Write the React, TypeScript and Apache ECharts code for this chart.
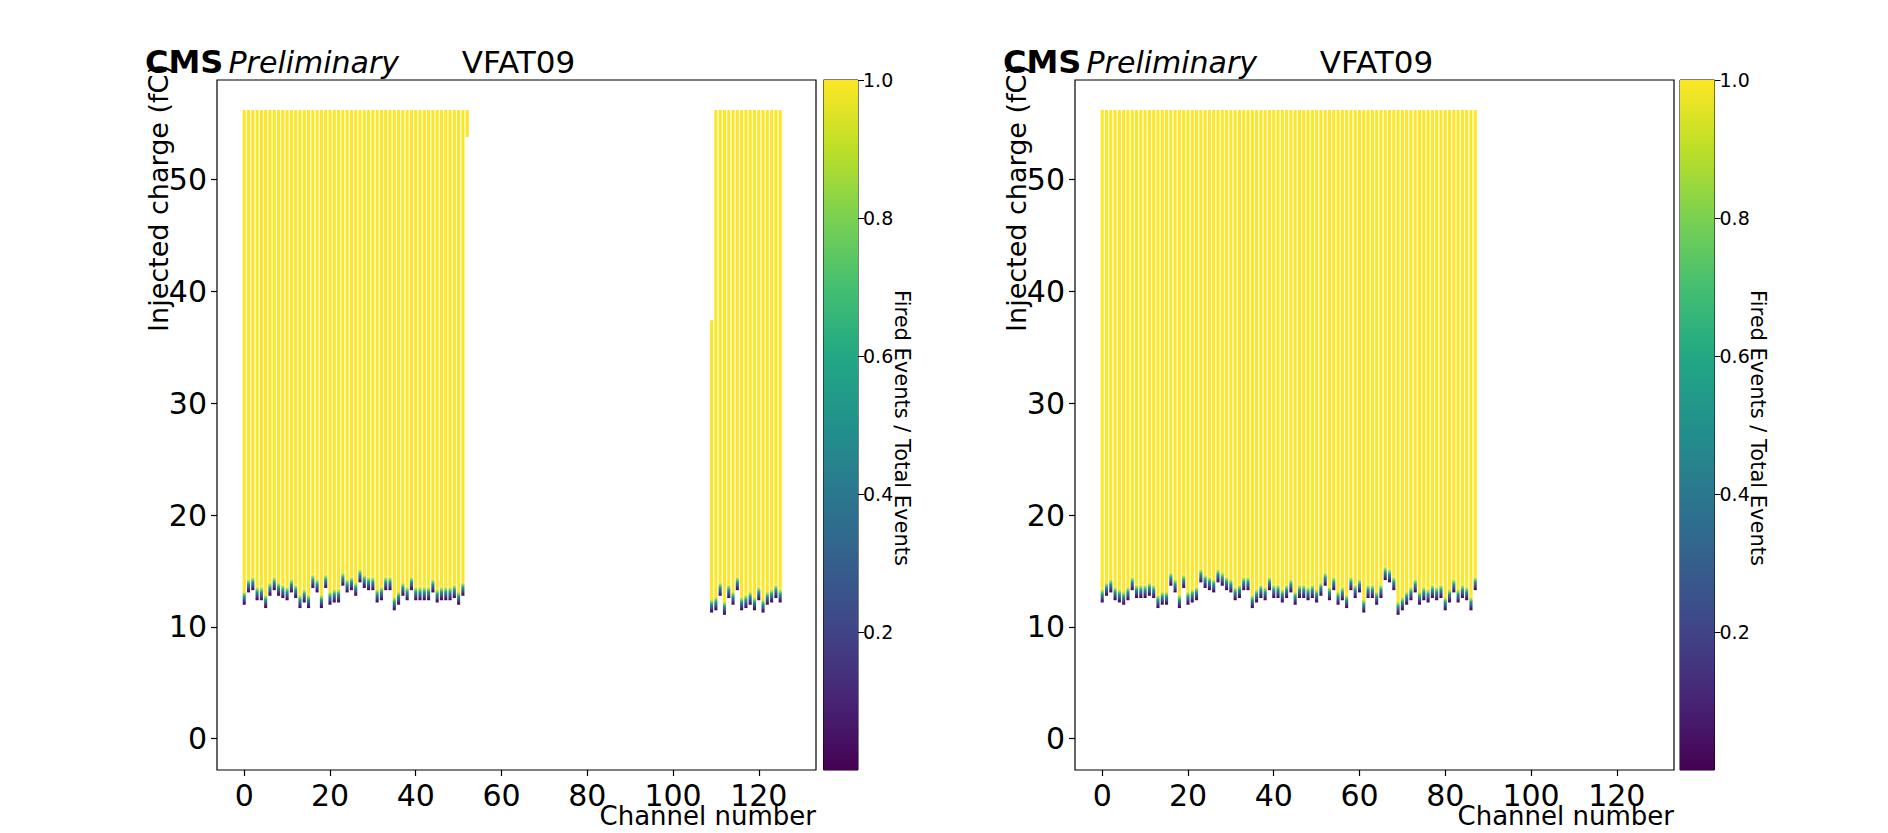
import React, { useEffect, useRef } from "react";
import * as echarts from "echarts";

// ---------- data ----------
const leftChannels = [
  0, 1, 2, 3, 4, 5, 6, 7, 8, 9, 10, 11, 12, 13, 14, 15, 16, 17, 18, 19, 20, 21, 22, 23, 24, 25,
  26, 27, 28, 29, 30, 31, 32, 33, 34, 35, 36, 37, 38, 39, 40, 41, 42, 43, 44, 45, 46, 47, 48, 49,
  50, 51, 52,
  109, 110, 111, 112, 113, 114, 115, 116, 117, 118, 119, 120, 121, 122, 123, 124, 125,
];
// lowest injected charge with any fired events (fC)
const leftLow = [
  12.1, 13.2, 13.4, 12.5, 12.5, 11.8, 12.9, 13.4, 12.9, 12.7, 12.5, 13.2, 12.7, 11.8, 12.3, 11.8,
  13.6, 13.2, 11.8, 13.6, 12.1, 12.3, 12.3, 13.8, 13.2, 13.4, 12.9, 14.1, 13.6, 13.4, 13.4, 12.3,
  12.5, 13.4, 13.4, 11.6, 12.1, 12.9, 12.5, 13.4, 12.5, 12.5, 12.5, 12.5, 13.2, 12.3, 12.5, 12.5,
  12.5, 12.7, 12.1, 12.9, 53.8,
  11.4, 11.6, 12.9, 11.2, 12.7, 12.1, 13.4, 11.6, 11.8, 12.1, 11.6, 12.5, 11.4, 12.1, 12.3, 12.7, 12.3,
];
// charge at which fired/total reaches 1 (fC)
const leftFull = [
  13.2, 14.3, 14.5, 13.6, 13.6, 12.9, 14.0, 14.5, 14.0, 13.8, 13.6, 14.3, 13.8, 12.9, 13.4, 12.9,
  14.7, 14.3, 12.9, 14.7, 13.2, 13.4, 13.4, 14.9, 14.3, 14.5, 14.0, 15.2, 14.7, 14.5, 14.5, 13.4,
  13.6, 14.5, 14.5, 12.7, 13.2, 14.0, 13.6, 14.5, 13.6, 13.6, 13.6, 13.6, 14.3, 13.4, 13.6, 13.6,
  13.6, 13.8, 13.2, 14.0, 53.8,
  12.5, 12.7, 14.0, 12.3, 13.8, 13.2, 14.5, 12.7, 12.9, 13.2, 12.7, 13.6, 12.5, 13.2, 13.4, 13.8, 13.4,
];
// highest scanned charge (fC)
const leftTop = [
  56.1, 56.1, 56.1, 56.1, 56.1, 56.1, 56.1, 56.1, 56.1, 56.1, 56.1, 56.1, 56.1, 56.1, 56.1, 56.1,
  56.1, 56.1, 56.1, 56.1, 56.1, 56.1, 56.1, 56.1, 56.1, 56.1, 56.1, 56.1, 56.1, 56.1, 56.1, 56.1,
  56.1, 56.1, 56.1, 56.1, 56.1, 56.1, 56.1, 56.1, 56.1, 56.1, 56.1, 56.1, 56.1, 56.1, 56.1, 56.1,
  56.1, 56.1, 56.1, 56.1, 56.1,
  37.3, 56.1, 56.1, 56.1, 56.1, 56.1, 56.1, 56.1, 56.1, 56.1, 56.1, 56.1, 56.1, 56.1, 56.1, 56.1, 56.1,
];

const rightChannels = [
  0, 1, 2, 3, 4, 5, 6, 7, 8, 9, 10, 11, 12, 13, 14, 15, 16, 17, 18, 19, 20, 21, 22, 23, 24, 25,
  26, 27, 28, 29, 30, 31, 32, 33, 34, 35, 36, 37, 38, 39, 40, 41, 42, 43, 44, 45, 46, 47, 48, 49,
  50, 51, 52, 53, 54, 55, 56, 57, 58, 59, 60, 61, 62, 63, 64, 65, 66, 67, 68, 69, 70, 71, 72, 73,
  74, 75, 76, 77, 78, 79, 80, 81, 82, 83, 84, 85, 86, 87,
];
const rightLow = [
  12.3, 12.9, 13.2, 12.5, 12.3, 12.1, 12.5, 13.4, 12.7, 12.7, 12.7, 12.9, 12.7, 11.8, 12.1, 12.1,
  13.8, 13.2, 11.8, 13.6, 12.1, 12.3, 12.5, 14.1, 13.6, 13.4, 13.2, 14.1, 13.8, 13.4, 13.2, 12.5,
  12.7, 13.4, 13.4, 11.8, 12.3, 12.7, 12.5, 13.4, 12.7, 12.7, 12.3, 12.7, 13.2, 12.1, 12.7, 12.7,
  12.5, 12.7, 12.3, 12.9, 13.8, 12.5, 13.4, 12.1, 12.5, 11.8, 13.4, 12.7, 13.2, 11.4, 12.7, 12.7,
  12.1, 12.7, 14.3, 14.1, 13.4, 11.2, 11.6, 12.1, 12.5, 13.2, 12.1, 12.5, 12.3, 12.7, 12.5, 12.7,
  11.6, 12.3, 13.2, 12.3, 12.7, 12.5, 11.6, 13.4,
];
const rightFull = [
  13.4, 14.0, 14.3, 13.6, 13.4, 13.2, 13.6, 14.5, 13.8, 13.8, 13.8, 14.0, 13.8, 12.9, 13.2, 13.2,
  14.9, 14.3, 12.9, 14.7, 13.2, 13.4, 13.6, 15.2, 14.7, 14.5, 14.3, 15.2, 14.9, 14.5, 14.3, 13.6,
  13.8, 14.5, 14.5, 12.9, 13.4, 13.8, 13.6, 14.5, 13.8, 13.8, 13.4, 13.8, 14.3, 13.2, 13.8, 13.8,
  13.6, 13.8, 13.4, 14.0, 14.9, 13.6, 14.5, 13.2, 13.6, 12.9, 14.5, 13.8, 14.3, 12.5, 13.8, 13.8,
  13.2, 13.8, 15.4, 15.2, 14.5, 12.3, 12.7, 13.2, 13.6, 14.3, 13.2, 13.6, 13.4, 13.8, 13.6, 13.8,
  12.7, 13.4, 14.3, 13.4, 13.8, 13.6, 12.7, 14.5,
];
const rightTop = [
  56.1, 56.1, 56.1, 56.1, 56.1, 56.1, 56.1, 56.1, 56.1, 56.1, 56.1, 56.1, 56.1, 56.1, 56.1, 56.1,
  56.1, 56.1, 56.1, 56.1, 56.1, 56.1, 56.1, 56.1, 56.1, 56.1, 56.1, 56.1, 56.1, 56.1, 56.1, 56.1,
  56.1, 56.1, 56.1, 56.1, 56.1, 56.1, 56.1, 56.1, 56.1, 56.1, 56.1, 56.1, 56.1, 56.1, 56.1, 56.1,
  56.1, 56.1, 56.1, 56.1, 56.1, 56.1, 56.1, 56.1, 56.1, 56.1, 56.1, 56.1, 56.1, 56.1, 56.1, 56.1,
  56.1, 56.1, 56.1, 56.1, 56.1, 56.1, 56.1, 56.1, 56.1, 56.1, 56.1, 56.1, 56.1, 56.1, 56.1, 56.1,
  56.1, 56.1, 56.1, 56.1, 56.1, 56.1, 56.1, 56.1,
];

const xTicks = [0, 20, 40, 60, 80, 100, 120];
const yTicks = [0, 10, 20, 30, 40, 50];
const colorbarTicks = [0.2, 0.4, 0.6, 0.8, 1.0];
const colorbarRange = [0, 1];

const X_MIN = -6.35;
const X_MAX = 133.35;
const Y_MIN = -2.8;
const Y_MAX = 58.9;

const VIRIDIS = [
  "#440154", "#482475", "#414487", "#355f8d", "#2a788e", "#21918c",
  "#22a884", "#44bf70", "#7ad151", "#bddf26", "#fde725",
];
const TURN_ON = [
  { offset: 0, color: "#440154" },
  { offset: 0.22, color: "#46307e" },
  { offset: 0.42, color: "#31688e" },
  { offset: 0.58, color: "#21918c" },
  { offset: 0.74, color: "#5ec962" },
  { offset: 0.88, color: "#d2e21b" },
  { offset: 1, color: "#fde725" },
];

const FONT = "DejaVu Sans";

function buildItems(ch: number[], low: number[], full: number[], top: number[]) {
  return ch.map((c, i) => [c, low[i], full[i], top[i]]);
}

function columnRender(params: any, api: any) {
  const ch = api.value(0);
  const low = api.value(1);
  const full = api.value(2);
  const top = api.value(3);
  const w = api.size([0.72, 0])[0];
  const halfCell = api.size([0, 0.12])[1];
  const pTop = api.coord([ch, top]);
  const pFull = api.coord([ch, full]);
  const pLow = api.coord([ch, low]);
  const x = pTop[0] - w / 2;
  const children: any[] = [
    {
      type: "rect",
      shape: { x, y: pTop[1] - halfCell, width: w, height: pFull[1] - pTop[1] + halfCell },
      style: { fill: "#fde725" },
    },
  ];
  if (pLow[1] - pFull[1] > 0.5) {
    children.push({
      type: "rect",
      shape: { x, y: pFull[1], width: w, height: pLow[1] - pFull[1] + halfCell },
      style: { fill: new echarts.graphic.LinearGradient(0, 1, 0, 0, TURN_ON) },
    });
  }
  return { type: "group", children };
}

function colorbarRender(params: any, api: any) {
  const p0 = api.coord([api.value(0), api.value(0)]);
  const p1 = api.coord([api.value(1), api.value(1)]);
  return {
    type: "rect",
    shape: { x: p0[0], y: p1[1], width: p1[0] - p0[0], height: p0[1] - p1[1] },
    style: {
      fill: new echarts.graphic.LinearGradient(
        0, 1, 0, 0,
        VIRIDIS.map((c, i) => ({ offset: i / (VIRIDIS.length - 1), color: c }))
      ),
    },
  };
}

const PANELS = [
  { left: 217, cbLeft: 823.5, items: buildItems(leftChannels, leftLow, leftFull, leftTop) },
  { left: 1075, cbLeft: 1680, items: buildItems(rightChannels, rightLow, rightFull, rightTop) },
];
const GRID_TOP = 80;
const GRID_H = 690;
const GRID_W = 599;
const CB_W = 34.5;

function buildOption() {
  const grid: any[] = [];
  const xAxis: any[] = [];
  const yAxis: any[] = [];
  const series: any[] = [];
  const graphic: any[] = [];

  PANELS.forEach((p, k) => {
    grid.push({
      left: p.left, top: GRID_TOP, width: GRID_W, height: GRID_H,
      show: true, borderColor: "#000", borderWidth: 1.2, backgroundColor: "transparent",
    });
    grid.push({
      left: p.cbLeft, top: GRID_TOP, width: CB_W, height: GRID_H,
      show: true, borderColor: "#000", borderWidth: 1, backgroundColor: "transparent",
    });
    const gMain = k * 2;
    const gCb = k * 2 + 1;
    xAxis.push({
      gridIndex: gMain, type: "value", min: X_MIN, max: X_MAX, position: "bottom",
      splitLine: { show: false }, axisLine: { show: false, onZero: false },
      axisTick: { show: true, length: 6, customValues: xTicks, lineStyle: { color: "#000", width: 1.2 } },
      axisLabel: { customValues: xTicks, fontSize: 30, color: "#000", fontFamily: FONT, margin: 10 },
    });
    yAxis.push({
      gridIndex: gMain, type: "value", min: Y_MIN, max: Y_MAX, position: "left",
      splitLine: { show: false }, axisLine: { show: false, onZero: false },
      axisTick: { show: true, length: 6, customValues: yTicks, lineStyle: { color: "#000", width: 1.2 } },
      axisLabel: { customValues: yTicks, fontSize: 30, color: "#000", fontFamily: FONT, margin: 10 },
    });
    xAxis.push({
      gridIndex: gCb, type: "value", min: 0, max: 1, show: false,
      axisLine: { onZero: false },
    });
    yAxis.push({
      gridIndex: gCb, type: "value", min: 0, max: 1, position: "right",
      splitLine: { show: false }, axisLine: { show: false, onZero: false },
      axisTick: { show: true, length: 6, customValues: colorbarTicks, lineStyle: { color: "#000" } },
      axisLabel: {
        customValues: colorbarTicks, fontSize: 19, color: "#000", fontFamily: FONT, margin: 5,
        formatter: (v: number) => v.toFixed(1),
      },
    });
    series.push({
      type: "custom", xAxisIndex: gMain, yAxisIndex: gMain, clip: true,
      renderItem: columnRender, data: p.items, silent: true,
    });
    series.push({
      type: "custom", xAxisIndex: gCb, yAxisIndex: gCb,
      renderItem: colorbarRender, data: [colorbarRange], silent: true,
    });

    const titleBase = 62;
    graphic.push({
      type: "text", x: p.left - 72, y: titleBase,
      style: { text: "CMS", font: `bold 32px "${FONT}"`, fill: "#000", verticalAlign: "middle" },
    });
    graphic.push({
      type: "text", x: p.left + 11.5, y: titleBase,
      style: { text: "Preliminary", font: `italic 30px "${FONT}"`, fill: "#000", verticalAlign: "middle" },
    });
    graphic.push({
      type: "text", x: p.left + GRID_W / 2 + 2, y: titleBase,
      style: { text: "VFAT09", font: `31px "${FONT}"`, fill: "#000", align: "center", verticalAlign: "middle" },
    });
    graphic.push({
      type: "text", x: p.left - 59, y: 198, rotation: Math.PI / 2,
      style: {
        text: "Injected charge (fC)", font: `27px "${FONT}"`, fill: "#000",
        align: "center", verticalAlign: "middle",
      },
    });
    graphic.push({
      type: "text", x: p.left + GRID_W, y: 816,
      style: { text: "Channel number", font: `26px "${FONT}"`, fill: "#000", align: "right", verticalAlign: "middle" },
    });
    graphic.push({
      type: "text", x: p.cbLeft + 78, y: 428, rotation: -Math.PI / 2,
      style: {
        text: "Fired Events / Total Events", font: `21px "${FONT}"`, fill: "#000",
        align: "center", verticalAlign: "middle",
      },
    });
  });

  return { animation: false, backgroundColor: "#ffffff", grid, xAxis, yAxis, series, graphic };
}

export default function App() {
  const ref = useRef<HTMLDivElement>(null);
  useEffect(() => {
    document.body.style.margin = "0";
    document.body.style.overflow = "hidden";
    if (!ref.current) return;
    const chart = echarts.init(ref.current, undefined, { renderer: "svg" });
    chart.setOption(buildOption() as any);
    return () => chart.dispose();
  }, []);
  return <div ref={ref} style={{ width: 1888, height: 833 }} />;
}
